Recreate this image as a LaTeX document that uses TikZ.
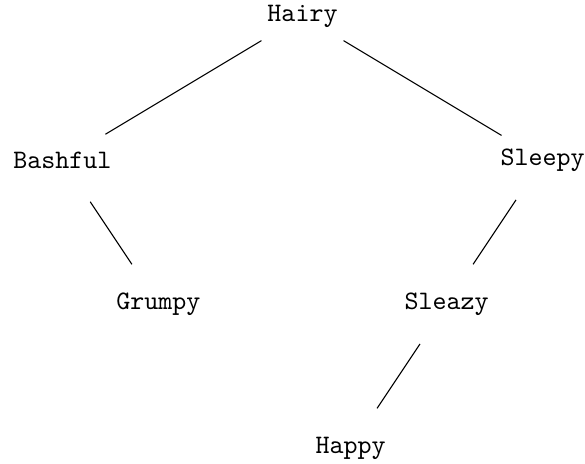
\documentclass[tikz,border=0pt]{standalone}
\usepackage{tikz}

\begin{document}
\begin{tikzpicture}[
  x=1pt, y=1pt,
  dwarf/.style={circle, inner sep=0pt, minimum size=35.5pt, font=\ttfamily},
  link/.style={draw, line width=0.4pt}]
\useasboundingbox (-113.4,-167.6) rectangle (105.9,6);
\node[dwarf] (hairy)   at (0,0)      {Hairy};
\node[dwarf] (bashful) at (-90,-54)  {Bashful};
\node[dwarf] (sleepy)  at (90,-54)   {Sleepy};
\node[dwarf] (grumpy)  at (-54,-108) {Grumpy};
\node[dwarf] (sleazy)  at (54,-108)  {Sleazy};
\node[dwarf] (happy)   at (18,-162)  {Happy};
\draw[link] (hairy) -- (bashful);
\draw[link] (hairy) -- (sleepy);
\draw[link] (bashful) -- (grumpy);
\draw[link] (sleepy) -- (sleazy);
\draw[link] (sleazy) -- (happy);
\end{tikzpicture}
\end{document}
